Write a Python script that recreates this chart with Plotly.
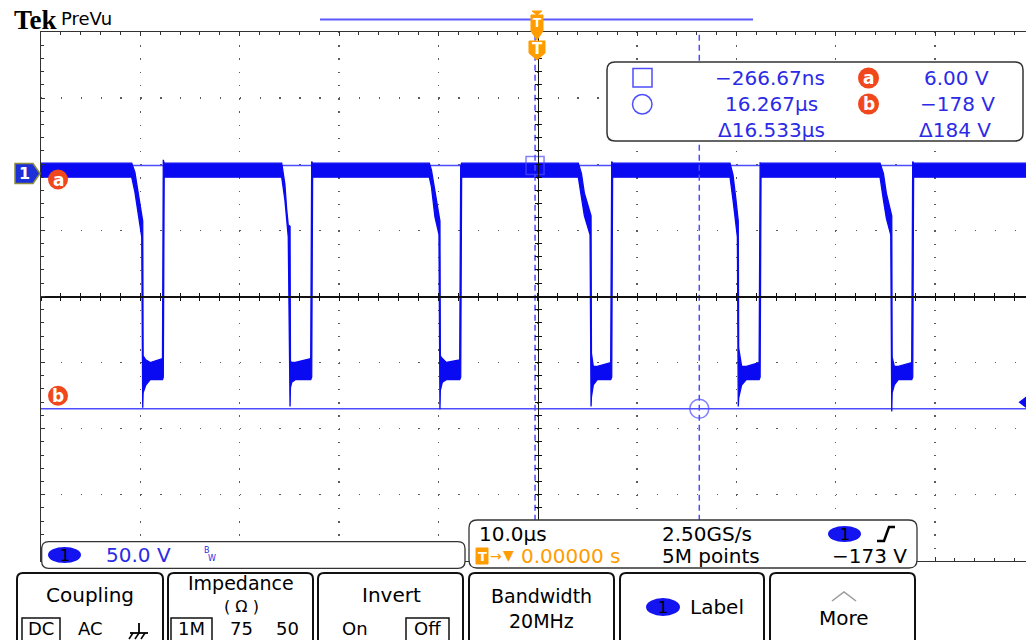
import plotly.graph_objects as go

# ---------------- values ----------------
US_PER_DIV = 10.0           # horizontal scale (µs / div)
V_PER_DIV = 50.0            # channel 1 vertical scale (V / div)
CH1_POSITION_DIV = 1.86     # channel 1 ground marker above screen centre (div)
TRIGGER_LEVEL_V = -173.0
TRIGGER_TIME_S = 0.0
SAMPLE_RATE = "2.50GS/s"
RECORD_LENGTH = "5M points"
BANDWIDTH = "20MHz"

# envelope of the acquired waveform: time (µs), upper edge (V), lower edge (V)
wave_t = [
    -50.00,
    -40.87, -40.55, -40.25, -39.86, -39.76, -39.72, -39.45, -39.00, -37.77, -37.69, -37.60,
    -25.77, -25.45, -25.27, -25.11, -24.93, -24.89, -24.76, -24.40, -22.85, -22.75, -22.66,
    -10.91, -10.70, -10.34, -9.94, -9.84, -9.80, -9.60, -9.20, -7.85, -7.75, -7.66,
    4.09, 4.40, 4.70, 5.27, 5.37, 5.41, 5.60, 6.00, 7.35, 7.45, 7.54,
    19.36, 19.66, 19.96, 20.10, 20.19, 20.23, 20.53, 21.00, 22.29, 22.39, 22.48,
    34.46, 34.80, 35.10, 35.54, 35.64, 35.68, 35.90, 36.30, 37.65, 37.75, 37.84,
    49.20,
]
wave_hi = [
    7.8,
    7.8, 1.0, -14.0, -32.0, -36.0, -138.0, -141.0, -143.0, -140.0, 10.3, 7.8,
    7.8, -8.0, -27.0, -39.0, -40.0, -142.0, -143.0, -143.0, -140.0, 9.0, 7.8,
    7.8, 2.7, -15.0, -34.0, -36.0, -138.0, -140.0, -143.0, -141.0, 6.0, 7.8,
    7.8, 0.0, -15.0, -29.0, -32.0, -136.0, -146.0, -146.0, -143.0, 9.0, 7.8,
    7.8, -1.0, -20.0, -34.0, -36.0, -132.0, -146.0, -146.0, -143.0, 8.0, 7.8,
    7.8, 0.0, -15.0, -29.0, -32.0, -139.0, -146.0, -146.0, -143.0, 9.0, 7.8,
    7.8,
]
wave_lo = [
    -2.8,
    -2.8, -14.0, -28.0, -48.0, -177.3, -166.0, -160.0, -156.0, -156.0, -154.0, -2.8,
    -2.8, -20.0, -39.0, -48.0, -176.3, -162.0, -158.0, -156.0, -156.0, -154.0, -2.8,
    -2.8, -10.0, -33.0, -46.0, -178.3, -164.0, -158.0, -156.0, -156.0, -154.0, -2.8,
    -2.8, -18.0, -32.0, -46.5, -176.3, -169.0, -160.0, -156.0, -156.0, -154.0, -2.8,
    -2.8, -20.0, -39.0, -48.0, -176.3, -170.0, -160.0, -156.0, -156.0, -154.0, -2.8,
    -2.8, -20.0, -34.0, -46.5, -180.1, -166.0, -160.0, -156.0, -156.0, -154.0, -2.8,
    -2.8,
]

cursor_t = [-0.26667, 16.26667]   # square cursor, circle cursor (µs)
cursor_v = [6.00, -178.0]          # cursor a, cursor b (V)

# ---------------- geometry / styles ----------------
W, H = 1026, 640
GX0, GY0 = 41.0, 32.0           # graticule top-left (px)
DX, DY = 99.34, 66.1            # px per division
GY1 = GY0 + 8 * DY
GXC = GX0 + 5 * DX
GYC = GY0 + 4 * DY

X0 = -5 * US_PER_DIV
X1 = X0 + (W - GX0) / DX * US_PER_DIV
Y1 = (4 - CH1_POSITION_DIV) * V_PER_DIV
Y0 = (-4 - CH1_POSITION_DIV) * V_PER_DIV
YC = -CH1_POSITION_DIV * V_PER_DIV

WAVE = "#0a0af2"
CURSOR = "#4d4dff"
BLUE_TXT = "#2b2be6"
ORANGE = "#f1471d"
AMBER = "#ff9c00"
GRID = "#5a5a5a"
FRAME = "#333333"
FONT = "DejaVu Sans"


def vy(v):
    return GY0 + (Y1 - v) / V_PER_DIV * DY


def P(x, y):
    return f"{x / W:.5f},{1 - y / H:.5f}"


def poly(points, close=True):
    return "M" + " L".join(P(*p) for p in points) + (" Z" if close else "")


def rrect_path(x0, y0, x1, y1, r):
    return (f"M{P(x0 + r, y0)} L{P(x1 - r, y0)} Q{P(x1, y0)} {P(x1, y0 + r)} "
            f"L{P(x1, y1 - r)} Q{P(x1, y1)} {P(x1 - r, y1)} L{P(x0 + r, y1)} "
            f"Q{P(x0, y1)} {P(x0, y1 - r)} L{P(x0, y0 + r)} Q{P(x0, y0)} {P(x0 + r, y0)} Z")


shapes, annos = [], []


def add_path(path, line="#000", width=1.5, fill=None):
    shapes.append(dict(type="path", path=path, xref="paper", yref="paper", layer="above",
                       line=dict(color=line, width=width),
                       fillcolor=fill if fill else "rgba(0,0,0,0)"))


def add_ellipse(x0, y0, x1, y1, fill=None, line=None, width=1.5):
    shapes.append(dict(type="circle", xref="paper", yref="paper", layer="above",
                       x0=x0 / W, x1=x1 / W, y0=1 - y1 / H, y1=1 - y0 / H,
                       fillcolor=fill if fill else "rgba(0,0,0,0)",
                       line=dict(color=line if line else "rgba(0,0,0,0)", width=width)))


def add_line(x0, y0, x1, y1, color="#000", width=1.5):
    shapes.append(dict(type="line", xref="paper", yref="paper", layer="above",
                       x0=x0 / W, x1=x1 / W, y0=1 - y0 / H, y1=1 - y1 / H,
                       line=dict(color=color, width=width)))


def txt(x, y, s, size=20, color="#000", anchor="center", family=FONT):
    annos.append(dict(x=x / W, y=1 - y / H, xref="paper", yref="paper", text=s,
                      showarrow=False, xanchor=anchor, yanchor="middle",
                      font=dict(family=family, size=size, color=color)))


def fmt_v(v):
    s = f"{v:#.3g}".rstrip(".")
    return s.replace("-", "−") + " V"


# ---------------- traces ----------------
fig = go.Figure()

# horizontal (amplitude) cursors a / b
for v in cursor_v:
    fig.add_trace(go.Scatter(x=[X0, X1], y=[v, v], mode="lines",
                             line=dict(color=CURSOR, width=1.5), hoverinfo="skip"))

# waveform envelope
fig.add_trace(go.Scatter(x=wave_t, y=wave_hi, mode="lines",
                         line=dict(color=WAVE, width=1.3), hoverinfo="skip"))
fig.add_trace(go.Scatter(x=wave_t, y=wave_lo, mode="lines", fill="tonexty",
                         fillcolor=WAVE, line=dict(color=WAVE, width=1.3), hoverinfo="skip"))

# vertical (time) cursors
for t in cursor_t:
    fig.add_trace(go.Scatter(x=[t, t], y=[Y0, Y1], mode="lines",
                             line=dict(color=CURSOR, width=1.5, dash="6px,4px"),
                             hoverinfo="skip"))
fig.add_trace(go.Scatter(x=cursor_t, y=cursor_v, mode="markers",
                         marker=dict(symbol=["square-open", "circle-open"], size=[18, 19],
                                     color=CURSOR, line=dict(width=1.5, color=CURSOR)),
                         hoverinfo="skip"))

# trigger level marker at right edge
fig.add_trace(go.Scatter(x=[X1], y=[TRIGGER_LEVEL_V], mode="markers", cliponaxis=False,
                         marker=dict(symbol="triangle-left", size=15, color=WAVE),
                         hoverinfo="skip"))

# dummy traces to realise the centre-cross axes
for xa, ya in [("x2", "y"), ("x3", "y"), ("x", "y2"), ("x", "y3")]:
    fig.add_trace(go.Scatter(x=[None], y=[None], xaxis=xa, yaxis=ya, hoverinfo="skip"))

# ---------------- decorations ----------------
# top: Tek PreVu and record bar
txt(12, 20, "<b>Tek</b>", size=27, family="Liberation Serif", anchor="left")
txt(59, 19, "PreVu", size=18, anchor="left")
add_line(320, 19.5, 753, 19.5, color="#5a5aff", width=2)
add_path(poly([(532, 11), (542, 11), (537, 15)]), line=AMBER, width=1, fill=AMBER)
add_path(poly([(531, 15), (543, 15), (543, 31), (537, 40), (531, 31)]), line=AMBER, width=1, fill=AMBER)
txt(537, 23, "<b>T</b>", size=12, color="#fff")
add_path(poly([(529, 41), (545, 41), (545, 53), (537, 60), (529, 53)]), line=AMBER, width=1, fill=AMBER)
txt(537, 49, "<b>T</b>", size=15, color="#fff")

# channel-1 ground marker
gy = vy(0.0)
add_path(poly([(15, gy - 10), (33, gy - 10), (40, gy), (33, gy + 10), (15, gy + 10)]),
         line="#8c8c3c", width=1.5, fill="#1d2fd8")
txt(24, gy, "<b>1</b>", size=16, color="#fff")

# cursor labels a / b at left
for lab, yy in [("a", vy(cursor_v[0]) + 14), ("b", vy(cursor_v[1]) - 13)]:
    add_ellipse(48, yy - 10, 68, yy + 10, fill=ORANGE)
    txt(58, yy, f"<b>{lab}</b>", size=17, color="#fff")

# cursor readout box
add_path(rrect_path(607, 62, 1023, 141, 8), line=FRAME, width=1.5, fill="#ffffff")
add_path(poly([(633, 68.5), (652, 68.5), (652, 87), (633, 87)]), line=CURSOR, width=1.5)
add_ellipse(632.5, 94.5, 652, 114, line=CURSOR, width=1.5)
dt = cursor_t[1] - cursor_t[0]
t1_txt = f"{cursor_t[0] * 1000:.2f}ns".replace("-", "−")
t2_txt = f"{cursor_t[1]:.3f}µs"
txt(770, 78, t1_txt, color=BLUE_TXT)
txt(771, 104, t2_txt, color=BLUE_TXT)
txt(771, 130, f"Δ{dt:.3f}µs", color=BLUE_TXT)
for lab, yy in [("a", 78), ("b", 104)]:
    add_ellipse(858, yy - 10.5, 879, yy + 10.5, fill=ORANGE)
    txt(868.5, yy, f"<b>{lab}</b>", size=17, color="#fff")
txt(956, 78, fmt_v(cursor_v[0]), color=BLUE_TXT)
txt(957, 104, fmt_v(cursor_v[1]), color=BLUE_TXT)
txt(955, 130, "Δ" + fmt_v(cursor_v[0] - cursor_v[1]), color=BLUE_TXT)

# channel scale box
add_path(rrect_path(41.7, 541.7, 465, 568.3, 7), line=FRAME, width=1.3, fill="#ffffff")
add_ellipse(48, 547, 81, 563, fill="#1414f0")
txt(64.5, 555, "1", size=16)
txt(104, 555, f"{V_PER_DIV:.1f} V", color=BLUE_TXT, anchor="left")
txt(207, 550, "B", size=8, color=BLUE_TXT)
txt(212, 558, "W", size=8, color=BLUE_TXT)

# timebase / trigger box
add_path(rrect_path(469, 520, 917, 568, 8), line=FRAME, width=1.3, fill="#ffffff")
txt(477, 534, f"{US_PER_DIV:.1f}µs", anchor="left")
txt(660, 534, SAMPLE_RATE, anchor="left")
add_ellipse(828, 526, 861, 542, fill="#1414f0")
txt(844.5, 534, "1", size=16)
add_path(poly([(877, 541), (884, 541), (889, 527), (895, 527)], close=False), line="#000", width=2.5)
add_path(poly([(476, 548), (488, 548), (488, 564), (476, 564)]), line=AMBER, width=1, fill=AMBER)
txt(482, 556, "<b>T</b>", size=13, color="#fff")
txt(488, 556, "→", size=14, color=AMBER, anchor="left")
txt(501, 555, "▼", size=14, color=AMBER, anchor="left")
txt(519, 556, f"{TRIGGER_TIME_S:.5f} s", color=AMBER, anchor="left")
txt(660, 556, RECORD_LENGTH, anchor="left")
txt(830, 556, f"{TRIGGER_LEVEL_V:.0f} V".replace("-", "−"), anchor="left")

# menu buttons
ROW2 = 628
for bx0, bx1 in [(17, 163), (168, 313), (318, 463), (469, 614), (620, 764), (770, 915)]:
    add_path(rrect_path(bx0, 573, bx1, 660, 6), line="#111", width=2, fill="#ffffff")
txt(90, 595, "Coupling")
add_path(poly([(22, 618), (60, 618), (60, 645), (22, 645)]), line="#111", width=1.5)
txt(41, ROW2, "DC", size=18)
txt(90, ROW2, "AC", size=18)
add_line(139, 623, 139, 633, width=1.8)
add_line(130, 633, 148, 633, width=1.8)
for gx in (133, 139, 145):
    add_line(gx, 633, gx - 4, 639, width=1.5)
txt(241, 583, "Impedance", size=19)
txt(241, 606, "( Ω )", size=16)
add_path(poly([(171, 618), (212, 618), (212, 645), (171, 645)]), line="#111", width=1.5)
txt(191.5, ROW2, "1M", size=18)
txt(241, ROW2, "75", size=18)
txt(287, ROW2, "50", size=18)
txt(391, 595, "Invert")
txt(355, ROW2, "On", size=18)
add_path(poly([(406, 618), (449, 618), (449, 645), (406, 645)]), line="#111", width=1.5)
txt(427.5, ROW2, "Off", size=18)
txt(541, 596, "Bandwidth", size=19)
txt(541, 621, BANDWIDTH, size=19)
add_ellipse(646, 598, 680, 616, fill="#1414f0")
txt(663, 607, "1", size=16)
txt(688, 607, "Label", anchor="left")
add_path(poly([(832, 601), (844, 592), (856, 601)], close=False), line="#9a9a9a", width=1.5)
txt(844, 618, "More")

# ---------------- axes (graticule) ----------------
ydom = [1 - GY1 / H, 1 - GY0 / H]
common = dict(showticklabels=False, zeroline=False, fixedrange=True)
fig.update_layout(
    width=W, height=H, autosize=False,
    margin=dict(l=0, r=0, t=0, b=0, pad=0),
    paper_bgcolor="#ffffff", plot_bgcolor="#ffffff",
    showlegend=False,
    xaxis=dict(domain=[GX0 / W, 1], range=[X0, X1], tick0=0, dtick=US_PER_DIV,
               showgrid=True, gridcolor=GRID, gridwidth=1.4,
               griddash=f"1.4px,{DY / 5 - 1.4:.3f}px",
               ticks="inside", ticklen=4, tickwidth=1, tickcolor=FRAME,
               minor=dict(tick0=0, dtick=US_PER_DIV / 5, ticks="inside", ticklen=3,
                          tickwidth=1, tickcolor=FRAME, showgrid=False),
               showline=True, linecolor=FRAME, linewidth=1.5, mirror="ticks", **common),
    yaxis=dict(domain=ydom, range=[Y0, Y1], tick0=YC, dtick=V_PER_DIV,
               showgrid=True, gridcolor=GRID, gridwidth=1.4,
               griddash=f"1.4px,{DX / 5 - 1.4:.3f}px",
               ticks="inside", ticklen=4, tickwidth=1, tickcolor=FRAME,
               minor=dict(tick0=YC, dtick=V_PER_DIV / 5, ticks="inside", ticklen=3,
                          tickwidth=1, tickcolor=FRAME, showgrid=False),
               showline=True, linecolor=FRAME, linewidth=1.5, mirror=False, **common),
    xaxis2=dict(overlaying="x", anchor="free", position=1 - GYC / H, side="bottom",
                range=[X0, X1], tick0=0, dtick=US_PER_DIV / 5, ticks="outside", ticklen=3,
                tickcolor="#111", showline=True, linecolor="#111", linewidth=1.5,
                showgrid=False, **common),
    xaxis3=dict(overlaying="x", anchor="free", position=1 - GYC / H, side="bottom",
                range=[X0, X1], tick0=0, dtick=US_PER_DIV / 5, ticks="inside", ticklen=3,
                tickcolor="#111", showline=False, showgrid=False, **common),
    yaxis2=dict(overlaying="y", anchor="free", position=GXC / W, side="left",
                range=[Y0, Y1], tick0=YC, dtick=V_PER_DIV / 5, ticks="outside", ticklen=3,
                tickcolor="#111", showline=True, linecolor="#111", linewidth=1.5,
                showgrid=False, **common),
    yaxis3=dict(overlaying="y", anchor="free", position=GXC / W, side="left",
                range=[Y0, Y1], tick0=YC, dtick=V_PER_DIV / 5, ticks="inside", ticklen=3,
                tickcolor="#111", showline=False, showgrid=False, **common),
    shapes=shapes,
    annotations=annos,
)

fig.write_html("out.html", config={"displayModeBar": False, "staticPlot": True},
               post_script="document.body.style.margin='0';document.body.style.overflow='hidden';")
